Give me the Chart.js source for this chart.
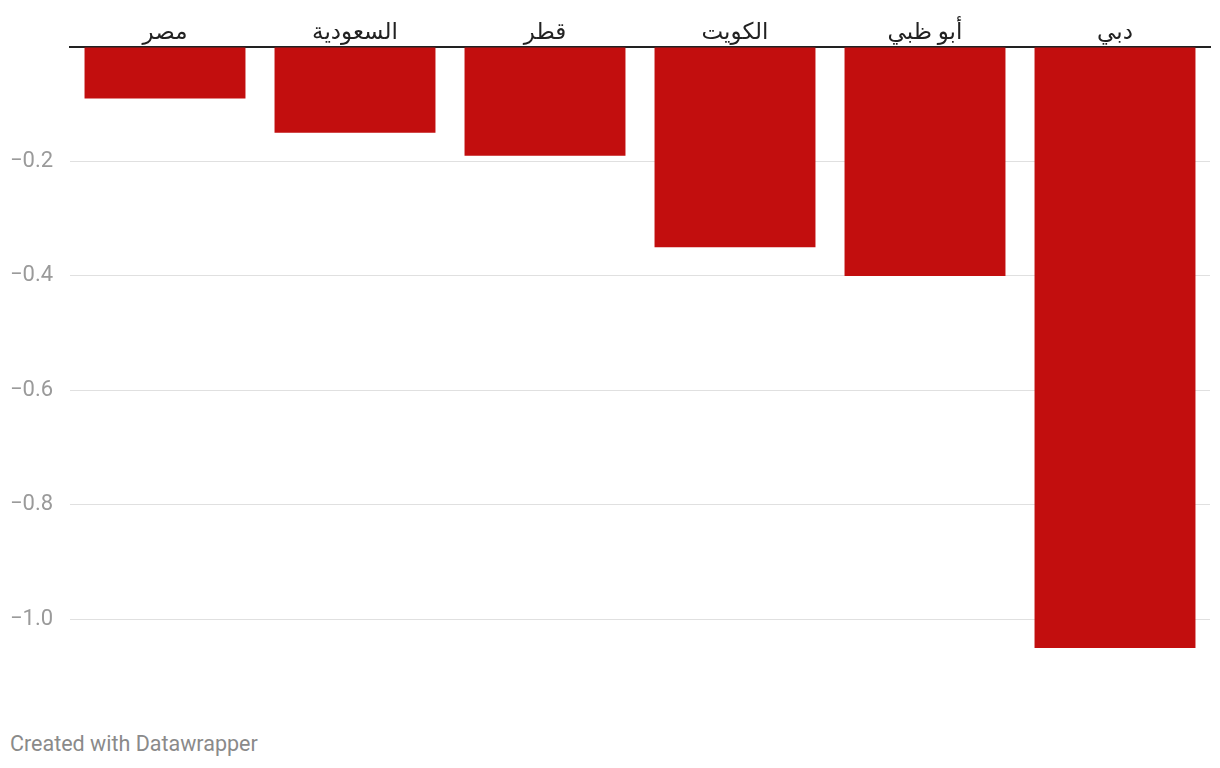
<!DOCTYPE html>
<html>
<head>
<meta charset="utf-8">
<script src="https://cdn.jsdelivr.net/npm/chart.js@4"></script>
<style>
  html, body { margin: 0; padding: 0; background: #fff; }
  #wrap { position: relative; width: 1220px; height: 700px; }
  #footer {
    position: absolute; left: 10px; top: 731px;
    font: 21.5px Roboto, sans-serif; color: #8a8a8a;
  }
</style>
</head>
<body>
<div id="wrap"><canvas id="chart"></canvas></div>
<div id="footer">Created with Datawrapper</div>
<script>
const categories = ['مصر', 'السعودية', 'قطر', 'الكويت', 'أبو ظبي', 'دبي'];
const values = [-0.09, -0.15, -0.19, -0.35, -0.40, -1.05];
const tickValues = [0, -0.2, -0.4, -0.6, -0.8, -1.0];

new Chart(document.getElementById('chart'), {
    type: 'bar',
    data: {
        labels: categories,
        datasets: [{
            data: values,
            backgroundColor: '#c20e0e',
            barPercentage: 0.847,
            categoryPercentage: 1
        }]
    },
    options: {
        responsive: true,
        maintainAspectRatio: false,
        animation: false,
        layout: {padding: {left: 10, right: 10, top: 0, bottom: 52}},
        plugins: {legend: {display: false}, tooltip: {enabled: false}},
        scales: {
            x: {
                position: 'top',
                z: 1,
                grid: {display: false, drawTicks: false},
                border: {display: true, color: '#222', width: 2},
                ticks: {
                    padding: 0,
                    color: '#222',
                    font: {size: 23, family: "Roboto, 'DejaVu Sans', sans-serif"}
                },
                afterFit: (scale) => { scale.height = 47; }
            },
            y: {
                min: -1.05,
                max: 0,
                grid: {
                    color: (ctx) => ctx.tick && ctx.tick.value === 0 ? 'rgba(0,0,0,0)' : '#e0e0e0',
                    lineWidth: 1,
                    drawTicks: false
                },
                border: {display: false},
                afterBuildTicks: (scale) => {
                    scale.ticks = tickValues.map((v) => ({value: v}));
                },
                afterFit: (scale) => { scale.width = 60; },
                ticks: {
                    crossAlign: 'far',
                    padding: 0,
                    color: '#9a9a9a',
                    font: {size: 22, family: 'Roboto, sans-serif'},
                    callback: (v) => v === 0 ? '' : '\u2212' + Math.abs(v).toFixed(1)
                }
            }
        }
    }
});
</script>
</body>
</html>
